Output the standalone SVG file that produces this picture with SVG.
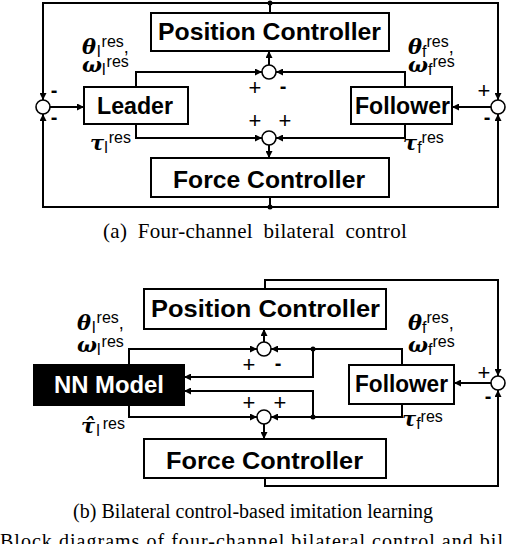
<svg xmlns="http://www.w3.org/2000/svg" width="506" height="544" viewBox="0 0 506 544">
<style>
.box{fill:#fff;stroke:#000;stroke-width:2}
.nn{fill:#000;stroke:#000;stroke-width:2}
.ln{fill:none;stroke:#000;stroke-width:2}
.sum{fill:#fff;stroke:#000;stroke-width:1.6}
.lbl{font-family:"Liberation Sans",Arial,sans-serif;font-weight:bold;font-size:24px;fill:#000}
.wlbl{font-family:"Liberation Sans",Arial,sans-serif;font-weight:bold;font-size:24px;fill:#fff}
.cap{font-family:"Liberation Serif","Times New Roman",serif;font-size:20px;fill:#000}
.m{font-family:"DejaVu Serif","Liberation Serif",serif;font-weight:bold;font-style:italic;font-size:21px;fill:#000}
.s{font-family:"Liberation Sans",Arial,sans-serif;font-weight:normal;font-style:normal;font-size:16px}
.cm{font-family:"Liberation Sans",Arial,sans-serif;font-weight:normal;font-style:normal;font-size:18px}
.pm{font-family:"Liberation Sans",Arial,sans-serif;font-size:22px;fill:#000;text-anchor:middle}
.mi{font-family:"Liberation Sans",Arial,sans-serif;font-weight:bold;font-size:20px;fill:#000;text-anchor:middle}
</style>
<defs>
<marker id="ah" markerWidth="7" markerHeight="7" refX="7" refY="3.5" orient="auto" markerUnits="userSpaceOnUse"><path d="M0,0 L7,3.5 L0,7 z" fill="#000"/></marker>
</defs>

<!-- ===== (a) connectors ===== -->
<g id="connectors-a">
<path class="ln" d="M270,13 V3"/>
<path class="ln" d="M270,3 H43 V100" marker-end="url(#ah)"/>
<path class="ln" d="M270,3 H498 V100" marker-end="url(#ah)"/>
<path class="ln" d="M270,197 V207"/>
<path class="ln" d="M270,207 H43 V114" marker-end="url(#ah)"/>
<path class="ln" d="M270,207 H498 V114" marker-end="url(#ah)"/>
<circle cx="270" cy="3" r="2.5"/>
<circle cx="270" cy="207" r="2.5"/>
<path class="ln" d="M50,107 H84" marker-end="url(#ah)"/>
<path class="ln" d="M136,87 V72 H262" marker-end="url(#ah)"/>
<path class="ln" d="M136,124 V138 H262" marker-end="url(#ah)"/>
<path class="ln" d="M405,87 V72 H276" marker-end="url(#ah)"/>
<path class="ln" d="M405,124 V138 H276" marker-end="url(#ah)"/>
<path class="ln" d="M269,65 V51" marker-end="url(#ah)"/>
<path class="ln" d="M269,145 V158" marker-end="url(#ah)"/>
<path class="ln" d="M491,107 H452" marker-end="url(#ah)"/>
</g>

<g id="a-position">
<rect class="box" x="151" y="13" width="238" height="38"/>
<text class="lbl" x="158" y="40" textLength="223" lengthAdjust="spacingAndGlyphs">Position Controller</text>
</g>
<g id="a-force">
<rect class="box" x="151" y="158" width="238" height="39"/>
<text class="lbl" x="173" y="188" textLength="192" lengthAdjust="spacingAndGlyphs">Force Controller</text>
</g>
<g id="a-leader">
<rect class="box" x="84" y="87" width="104" height="37"/>
<text class="lbl" x="97" y="114" textLength="76" lengthAdjust="spacingAndGlyphs">Leader</text>
</g>
<g id="a-follower">
<rect class="box" x="351" y="87" width="101" height="37"/>
<text class="lbl" x="355" y="114" textLength="95" lengthAdjust="spacingAndGlyphs">Follower</text>
</g>
<g id="a-sum-left">
<circle class="sum" cx="43" cy="107" r="7"/>
<text class="mi" x="54" y="97">-</text>
<text class="mi" x="54" y="124">-</text>
</g>
<g id="a-sum-pos">
<circle class="sum" cx="269" cy="72" r="7"/>
<text class="pm" x="255" y="95">+</text>
<text class="mi" x="283" y="93">-</text>
</g>
<g id="a-sum-force">
<circle class="sum" cx="269" cy="138" r="7"/>
<text class="pm" x="255" y="128">+</text>
<text class="pm" x="285" y="128">+</text>
</g>
<g id="a-sum-right">
<circle class="sum" cx="498" cy="107" r="7"/>
<text class="pm" x="484" y="98">+</text>
<text class="mi" x="487" y="124">-</text>
</g>
<g id="a-labels">
<text class="m" x="82" y="54">θ<tspan class="s" dx="1" dy="3">l</tspan><tspan class="s" dx="1" dy="-10">res</tspan><tspan class="cm" dy="6">,</tspan></text>
<text class="m" x="82" y="72">ω<tspan class="s" dx="0" dy="3">l</tspan><tspan class="s" dx="1" dy="-8">res</tspan></text>
<text class="m" x="90" y="150">τ<tspan class="s" dx="0" dy="3">l</tspan><tspan class="s" dx="1" dy="-10">res</tspan></text>
<text class="m" x="408" y="54">θ<tspan class="s" dx="0" dy="3">f</tspan><tspan class="s" dx="0" dy="-10">res</tspan><tspan class="cm" dy="6">,</tspan></text>
<text class="m" x="408" y="72">ω<tspan class="s" dx="0" dy="3">f</tspan><tspan class="s" dx="0" dy="-8">res</tspan></text>
<text class="m" x="403" y="150">τ<tspan class="s" dx="0" dy="3">f</tspan><tspan class="s" dx="0" dy="-10">res</tspan></text>
</g>
<text class="cap" x="103" y="238" style="font-size:21px;letter-spacing:0.3px;word-spacing:5px">(a) Four-channel bilateral control</text>

<!-- ===== (b) connectors ===== -->
<g id="connectors-b">
<path class="ln" d="M265,289 V280 H498 V376" marker-end="url(#ah)"/>
<path class="ln" d="M265,478 V486 H498 V390" marker-end="url(#ah)"/>
<path class="ln" d="M129,365 V349 H257" marker-end="url(#ah)"/>
<path class="ln" d="M129,405 V417 H257" marker-end="url(#ah)"/>
<path class="ln" d="M402,365 V349 H271" marker-end="url(#ah)"/>
<path class="ln" d="M402,404 V417 H271" marker-end="url(#ah)"/>
<path class="ln" d="M313,349 V377 H184" marker-end="url(#ah)"/>
<path class="ln" d="M313,417 V391 H184" marker-end="url(#ah)"/>
<circle cx="313" cy="349" r="2.5"/>
<circle cx="313" cy="417" r="2.5"/>
<path class="ln" d="M264,342 V329" marker-end="url(#ah)"/>
<path class="ln" d="M264,424 V439" marker-end="url(#ah)"/>
<path class="ln" d="M491,383 H454" marker-end="url(#ah)"/>
</g>

<g id="b-position">
<rect class="box" x="144" y="289" width="242" height="40"/>
<text class="lbl" x="151" y="317" textLength="229" lengthAdjust="spacingAndGlyphs">Position Controller</text>
</g>
<g id="b-force">
<rect class="box" x="144" y="439" width="242" height="39"/>
<text class="lbl" x="166" y="469" textLength="197" lengthAdjust="spacingAndGlyphs">Force Controller</text>
</g>
<g id="b-nn">
<rect class="nn" x="34" y="365" width="150" height="40"/>
<text class="wlbl" x="54" y="393" textLength="110" lengthAdjust="spacingAndGlyphs">NN Model</text>
</g>
<g id="b-follower">
<rect class="box" x="349" y="365" width="105" height="39"/>
<text class="lbl" x="355" y="392" textLength="93" lengthAdjust="spacingAndGlyphs">Follower</text>
</g>
<g id="b-sum-pos">
<circle class="sum" cx="264" cy="349" r="7"/>
<text class="pm" x="249" y="372">+</text>
<text class="mi" x="278" y="370">-</text>
</g>
<g id="b-sum-force">
<circle class="sum" cx="264" cy="417" r="7"/>
<text class="pm" x="249" y="410">+</text>
<text class="pm" x="280" y="410">+</text>
</g>
<g id="b-sum-right">
<circle class="sum" cx="498" cy="383" r="7"/>
<text class="pm" x="484" y="380">+</text>
<text class="mi" x="488" y="403">-</text>
</g>
<g id="b-labels">
<text class="m" x="77" y="330">θ<tspan class="s" dx="1" dy="3">l</tspan><tspan class="s" dx="1" dy="-10">res</tspan><tspan class="cm" dy="6">,</tspan></text>
<text class="m" x="77" y="352">ω<tspan class="s" dx="0" dy="3">l</tspan><tspan class="s" dx="1" dy="-8">res</tspan></text>
<text class="m" x="81" y="433">τ̂<tspan class="s" dx="1" dy="3">l</tspan><tspan class="s" dx="3" dy="-7">res</tspan></text>
<text class="m" x="408" y="330">θ<tspan class="s" dx="0" dy="3">f</tspan><tspan class="s" dx="0" dy="-10">res</tspan><tspan class="cm" dy="6">,</tspan></text>
<text class="m" x="408" y="352">ω<tspan class="s" dx="0" dy="3">f</tspan><tspan class="s" dx="0" dy="-8">res</tspan></text>
<text class="m" x="402" y="426">τ<tspan class="s" dx="0" dy="3">f</tspan><tspan class="s" dx="0" dy="-7">res</tspan></text>
</g>
<text class="cap" x="73" y="518" textLength="360" lengthAdjust="spacing">(b) Bilateral control-based imitation learning</text>
<text class="cap" x="0" y="548" textLength="503" lengthAdjust="spacing">Block diagrams of four-channel bilateral control and bil</text>
</svg>
